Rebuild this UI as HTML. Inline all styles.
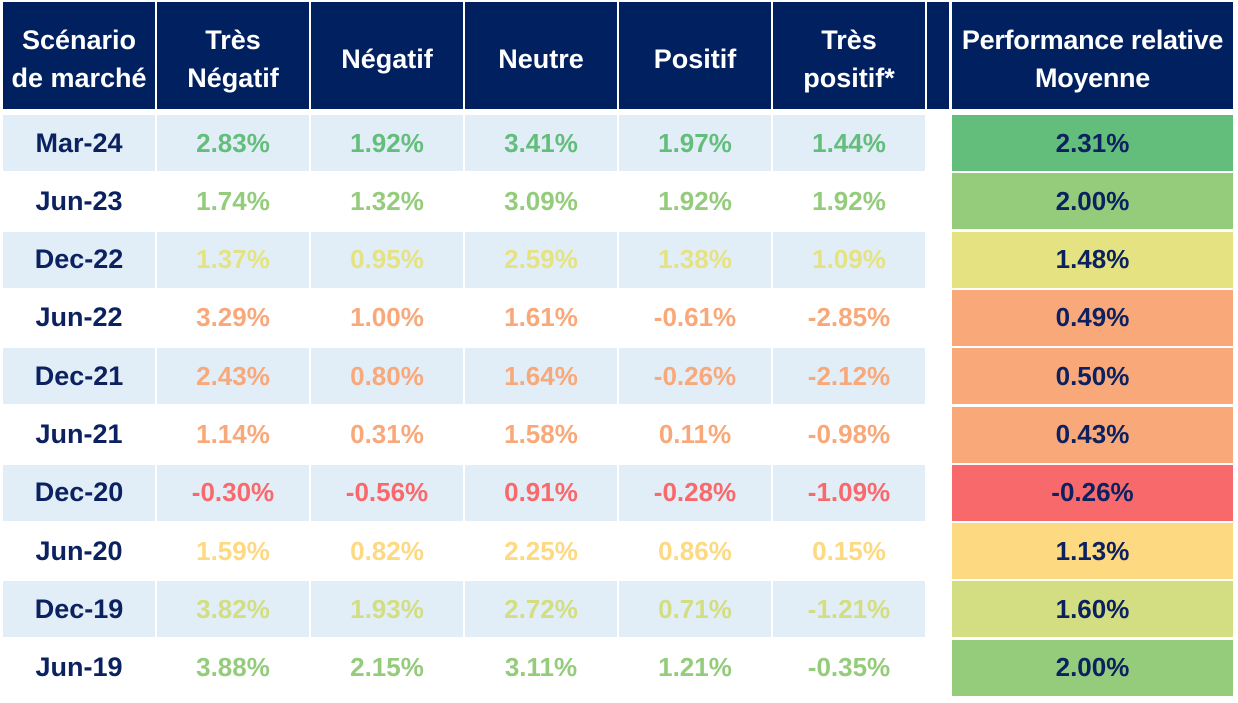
<!DOCTYPE html>
<html><head><meta charset="utf-8"><style>
body{margin:0;width:1238px;height:703px;background:#fff;position:relative;overflow:hidden;font-family:"Liberation Sans",Arial,sans-serif;font-weight:bold}
.c{position:absolute;display:flex;align-items:center;justify-content:center;text-align:center;box-sizing:border-box;white-space:nowrap}
.h{background:#002060;color:#fff;font-size:27px;line-height:38px;padding-top:7px}
.d{font-size:26px}
</style></head><body>
<div id="t"></div>
<script>
const headers=["Scénario<br>de marché","Très<br>Négatif","Négatif","Neutre","Positif","Très<br>positif*"];
const rowLabels=["Mar-24","Jun-23","Dec-22","Jun-22","Dec-21","Jun-21","Dec-20","Jun-20","Dec-19","Jun-19"];
const values=[
[2.83,1.92,3.41,1.97,1.44],
[1.74,1.32,3.09,1.92,1.92],
[1.37,0.95,2.59,1.38,1.09],
[3.29,1.00,1.61,-0.61,-2.85],
[2.43,0.80,1.64,-0.26,-2.12],
[1.14,0.31,1.58,0.11,-0.98],
[-0.30,-0.56,0.91,-0.28,-1.09],
[1.59,0.82,2.25,0.86,0.15],
[3.82,1.93,2.72,0.71,-1.21],
[3.88,2.15,3.11,1.21,-0.35]];
const averages=[2.31,2.00,1.48,0.49,0.50,0.43,-0.26,1.13,1.60,2.00];
const rowColors=["#63be7b","#94cc7c","#e5e381","#f9a87a","#f9a87a","#f9a87a","#f8696b","#fdd981","#d3de82","#94cc7c"];
const t=document.getElementById('t');
const colX=[3,157,311,465,619,773];const colW=152;
function cell(x,y,w,h,cls,html,bg,col){const e=document.createElement('div');e.className='c '+cls;e.style.left=x+'px';e.style.top=y+'px';e.style.width=w+'px';e.style.height=h+'px';if(bg)e.style.background=bg;if(col)e.style.color=col;e.innerHTML=html;t.appendChild(e);return e;}
headers.forEach((h,i)=>{const e=cell(colX[i],2,colW,107,'h',h);

});
const sp=cell(927,2,22,107,'h','');


const hp=cell(952,2,281,107,'h','Performance relative<br>Moyenne');
hp.style.fontSize='27px';
hp.style.letterSpacing='-0.3px';


rowLabels.forEach((lab,r)=>{
 const y=115+r*58.3;const bg=r%2==0?'#e2eef7':null;
 const l=cell(colX[0],y,colW,56,'d',lab,bg,'#0b2160');
 l.style.fontSize='27px';
 
 
 values[r].forEach((v,j)=>{const e=cell(colX[j+1],y,colW,56,'d',v.toFixed(2)+'%',bg,rowColors[r]);
  
  });
 const a=cell(952,y,281,56,'d',averages[r].toFixed(2)+'%',rowColors[r],'#0b2160');
 
 
});
</script>
</body></html>
